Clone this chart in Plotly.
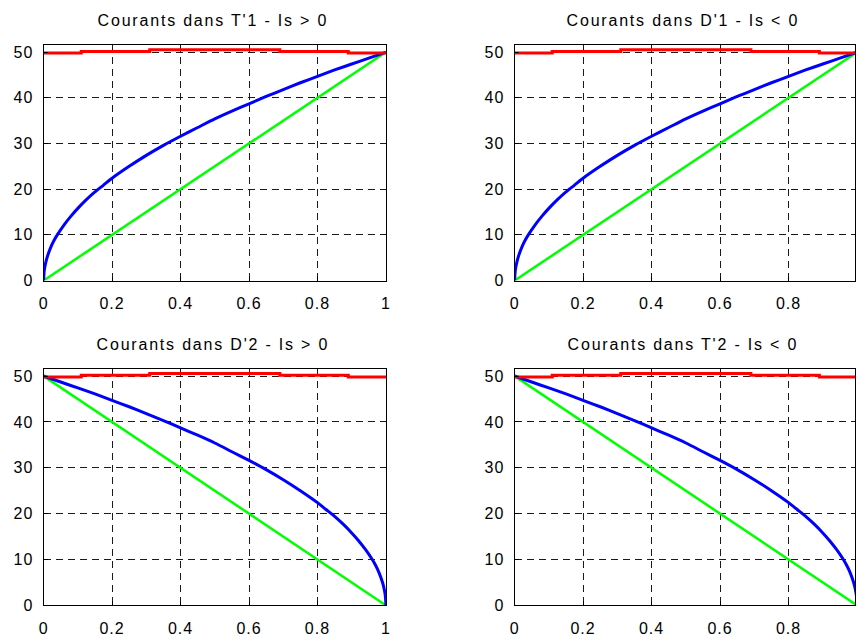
import plotly.graph_objects as go

# ---------------- data ----------------
titles = ["Courants dans T'1 - Is > 0", "Courants dans D'1 - Is < 0",
          "Courants dans D'2 - Is > 0", "Courants dans T'2 - Is < 0"]

x_tick_vals = [0, 0.2, 0.4, 0.6, 0.8, 1]
x_tick_text = ["0", "0.2", "0.4", "0.6", "0.8", "1"]
y_tick_vals = [0, 10, 20, 30, 40, 50]
y_tick_text = ["0", "10", "20", "30", "40", "50"]

# red (total current, nearly constant)
red_x = [0, 0.11, 0.31, 0.69, 0.89, 1.0]
red_y = [49.8, 50.15, 50.55, 50.15, 49.8, 49.8]

# rising curves (top row)
blue_up_x = [0, 0.002, 0.005, 0.01, 0.02, 0.03, 0.04, 0.06, 0.08, 0.1, 0.125, 0.15,
             0.175, 0.2, 0.25, 0.3, 0.35, 0.4, 0.45, 0.5, 0.55, 0.6, 0.65, 0.7,
             0.75, 0.8, 0.85, 0.9, 0.95, 1.0]
blue_up_y = [0, 2.2, 3.5, 5.0, 7.1, 8.7, 10.0, 12.2, 14.1, 15.8, 17.7, 19.4,
             20.9, 22.4, 25.0, 27.4, 29.6, 31.6, 33.5, 35.4, 37.1, 38.7, 40.3, 41.8,
             43.3, 44.7, 46.1, 47.4, 48.7, 50.0]
green_up_x = [0, 1.0]
green_up_y = [0, 50.0]

# falling curves (bottom row)
blue_dn_x = [0, 0.05, 0.1, 0.15, 0.2, 0.25, 0.3, 0.35, 0.4, 0.45, 0.5, 0.55, 0.6,
             0.65, 0.7, 0.75, 0.8, 0.825, 0.85, 0.875, 0.9, 0.92, 0.94, 0.96, 0.97,
             0.98, 0.99, 0.995, 0.998, 1.0]
blue_dn_y = [50.0, 48.7, 47.4, 46.1, 44.7, 43.3, 41.8, 40.3, 38.7, 37.1, 35.4, 33.5,
             31.6, 29.6, 27.4, 25.0, 22.4, 20.9, 19.4, 17.7, 15.8, 14.1, 12.2, 10.0,
             8.7, 7.1, 5.0, 3.5, 2.2, 0]
green_dn_x = [0, 1.0]
green_dn_y = [50.0, 0]

# ---------------- figure ----------------
W, H = 860, 639
FONT = "Liberation Sans, Arial, sans-serif"

fig = go.Figure()

# pixel geometry of the four plot areas (left, right, top, bottom)
boxes = [
    (40, 386, 45, 284),
    (516, 860, 45, 284),
    (40, 386, 374, 614),
    (516, 860, 374, 614),
]
x_ranges = [[0, 1], [0, 0.994], [0, 1], [0, 0.994]]
title_pos = [(211, 20), (686, 20), (211, 349), (686, 349)]

curves = [
    (blue_up_x, blue_up_y, green_up_x, green_up_y),
    (blue_up_x, blue_up_y, green_up_x, green_up_y),
    (blue_dn_x, blue_dn_y, green_dn_x, green_dn_y),
    (blue_dn_x, blue_dn_y, green_dn_x, green_dn_y),
]

annotations = []
for i in range(4):
    sfx = "" if i == 0 else str(i + 1)
    xa, ya = "x" + sfx, "y" + sfx
    bx, by, gx, gy = curves[i]
    fig.add_trace(go.Scatter(x=gx, y=gy, mode="lines", xaxis=xa, yaxis=ya,
                             line=dict(color="#00ff00", width=2.5), showlegend=False))
    fig.add_trace(go.Scatter(x=bx, y=by, mode="lines", xaxis=xa, yaxis=ya,
                             line=dict(color="#0000ff", width=3, shape="spline", smoothing=0.6),
                             showlegend=False))
    fig.add_trace(go.Scatter(x=red_x, y=red_y, mode="lines", xaxis=xa, yaxis=ya,
                             line=dict(color="#ff0000", width=3, shape="hv"), showlegend=False))

    l, r, t, b = boxes[i]
    axcommon = dict(showline=True, linecolor="black", linewidth=1, mirror=True,
                    showgrid=True, gridcolor="#1a1a1a", gridwidth=1, griddash="7px,5px",
                    zeroline=False, ticks="inside", ticklen=4, tickcolor="black",
                    tickfont=dict(family=FONT, size=16, color="black"),
                    fixedrange=True)
    fig.layout["xaxis" + sfx] = dict(
        domain=[l / W, r / W], range=x_ranges[i], anchor=ya,
        tickmode="array", tickvals=x_tick_vals, ticktext=x_tick_text,
        ticklabelstandoff=8, **axcommon)
    fig.layout["yaxis" + sfx] = dict(
        domain=[1 - b / H, 1 - t / H], range=[0, 51.5], anchor=xa,
        tickmode="array", tickvals=y_tick_vals, ticktext=y_tick_text,
        ticklabelstandoff=6, **axcommon)

    tx, ty = title_pos[i]
    annotations.append(dict(text=titles[i], x=tx / W, y=1 - ty / H, xref="paper", yref="paper",
                            xanchor="center", yanchor="middle", showarrow=False,
                            font=dict(family=FONT, size=16, color="black")))

fig.update_layout(width=W, height=H, margin=dict(l=0, r=0, t=0, b=0),
                  paper_bgcolor="white", plot_bgcolor="white",
                  annotations=annotations, showlegend=False)

post_js = """
document.querySelectorAll('.xaxislayer-above text, .yaxislayer-above text').forEach(function(t){
  t.style.letterSpacing = '1px';
});
document.querySelectorAll('.annotation-text').forEach(function(t){
  t.style.letterSpacing = '1.8px';
});
"""

fig.write_html("out.html", post_script=post_js)
